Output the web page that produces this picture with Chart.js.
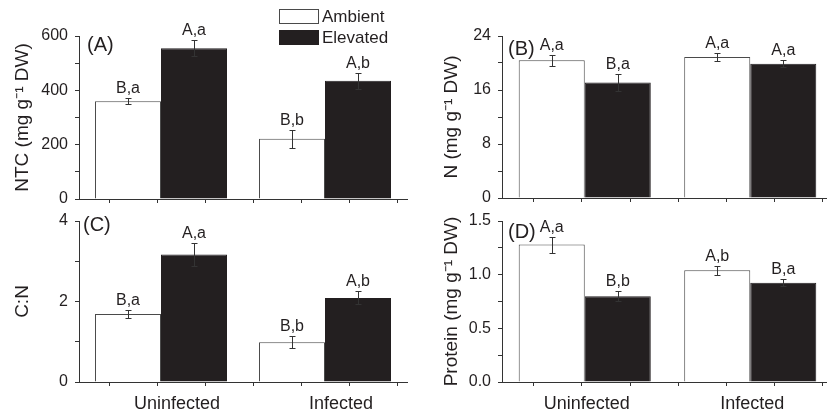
<!DOCTYPE html>
<html>
<head>
<meta charset="utf-8">
<script src="https://cdn.jsdelivr.net/npm/chart.js@4.4.0/dist/chart.umd.min.js"></script>
<style>
  html, body { margin: 0; padding: 0; background: #fff; }
  #wrap { position: relative; width: 827px; height: 415px; overflow: hidden; }
  canvas { position: absolute; }
</style>
</head>
<body>
<div id="wrap">
  <canvas id="panelA" width="413" height="207" style="left:0;top:0"></canvas>
  <canvas id="panelB" width="421" height="207" style="left:413px;top:0"></canvas>
  <canvas id="panelC" width="413" height="208" style="left:0;top:207px"></canvas>
  <canvas id="panelD" width="421" height="208" style="left:413px;top:207px"></canvas>
</div>
<script>
// groups and treatments
const categories = ['Uninfected', 'Infected'];
const seriesNames = ['Ambient', 'Elevated'];

// (A) NTC
const ntcAmbient = [360, 222];
const ntcAmbientErr = [11, 33];
const ntcElevated = [555, 435];
const ntcElevatedErr = [29, 30];
const ntcAmbientLetters = ['B,a', 'B,b'];
const ntcElevatedLetters = ['A,a', 'A,b'];

// (B) N
const nAmbient = [20.4, 20.9];
const nAmbientErr = [0.8, 0.6];
const nElevated = [17.1, 19.9];
const nElevatedErr = [1.2, 0.5];
const nAmbientLetters = ['A,a', 'A,a'];
const nElevatedLetters = ['B,a', 'A,a'];

// (C) C:N
const cnAmbient = [1.69, 0.99];
const cnAmbientErr = [0.09, 0.15];
const cnElevated = [3.17, 2.09];
const cnElevatedErr = [0.29, 0.16];
const cnAmbientLetters = ['B,a', 'B,b'];
const cnElevatedLetters = ['A,a', 'A,b'];

// (D) Protein
const proteinAmbient = [1.28, 1.04];
const proteinAmbientErr = [0.075, 0.04];
const proteinElevated = [0.80, 0.925];
const proteinElevatedErr = [0.045, 0.03];
const proteinAmbientLetters = ['A,a', 'A,b'];
const proteinElevatedLetters = ['B,b', 'B,a'];

// y axis tick settings: max, minor step, labelled step, decimals
const ntcTicks = [600, 100, 200, 0];
const nTicks = [24, 4, 8, 0];
const cnTicks = [4, 1, 2, 0];
const proteinTicks = [1.5, 0.25, 0.5, 1];

const FONT = "'Liberation Sans', Arial, sans-serif";
const INK = '#231f20';
Chart.defaults.font.family = FONT;
Chart.defaults.color = INK;

// error bars, significance letters, panel tag, legend
const marksPlugin = {
    id: 'marks',
    afterDatasetsDraw(chart, args, opts)
    {
        const { ctx, chartArea } = chart;
        const y = chart.scales.y;
        ctx.save();
        chart.data.datasets.forEach((ds, i) =>
        {
            const meta = chart.getDatasetMeta(i);
            meta.data.forEach((bar, j) =>
            {
                const v = ds.data[j], e = ds.errors[j];
                const x = Math.round(bar.x) + 0.5;
                const yt = Math.round(y.getPixelForValue(v + e)) + 0.5;
                const yb = Math.round(y.getPixelForValue(v - e)) + 0.5;
                ctx.strokeStyle = '#333';
                ctx.lineWidth = 1;
                ctx.beginPath();
                ctx.moveTo(x, yt); ctx.lineTo(x, yb);
                ctx.moveTo(x - 3, yt); ctx.lineTo(x + 3, yt);
                ctx.moveTo(x - 3, yb); ctx.lineTo(x + 3, yb);
                ctx.stroke();
                ctx.fillStyle = INK;
                ctx.font = '16px ' + FONT;
                ctx.textAlign = 'center';
                ctx.textBaseline = 'alphabetic';
                ctx.fillText(ds.letters[j], bar.x, yt - 6);
            });
        });

        // panel tag
        ctx.font = '20px ' + FONT;
        ctx.textAlign = 'left';
        ctx.textBaseline = 'middle';
        ctx.fillStyle = INK;
        ctx.fillText(opts.tag, chartArea.left + opts.tagDx, chartArea.top + opts.tagDy);

        // legend
        if (opts.legend)
        {
            const lg = opts.legend;
            chart.data.datasets.forEach((ds, i) =>
            {
                const top = lg.y + i * 21;
                ctx.fillStyle = ds.backgroundColor;
                ctx.fillRect(lg.x, top, 40, 15);
                ctx.strokeStyle = ds.borderColor;
                ctx.strokeRect(lg.x + 0.5, top + 0.5, 39, 14);
                ctx.fillStyle = INK;
                ctx.font = '17px ' + FONT;
                ctx.textAlign = 'left';
                ctx.textBaseline = 'middle';
                ctx.fillText(ds.label, lg.x + 43, top + 8);
            });
        }
        ctx.restore();
    }
};

const makePanel = (id, p) =>
{
    const [yMax, yStep, yMajor, dec] = p.ticks;
    const ctx = document.getElementById(id).getContext('2d');
    return new Chart(ctx, {
        type: 'bar',
        data: {
            labels: categories,
            datasets: [{
                label: seriesNames[0],
                data: p.ambient,
                errors: p.ambientErr,
                letters: p.ambientLetters,
                backgroundColor: '#ffffff',
                borderColor: '#4a4a4a',
                borderWidth: 1
            },{
                label: seriesNames[1],
                data: p.elevated,
                errors: p.elevatedErr,
                letters: p.elevatedLetters,
                backgroundColor: INK,
                borderColor: INK,
                borderWidth: 1
            }]
        },
        options: {
            responsive: false,
            animation: false,
            events: [],
            categoryPercentage: p.catPct,
            barPercentage: 1,
            layout: { padding: p.padding },
            scales: {
                x: {
                    type: 'category',
                    display: p.showCategories,
                    weight: 1,
                    grid: { display: false },
                    border: { display: false },
                    ticks: { font: { size: 18 }, color: INK, padding: p.catPad, labelOffset: p.labelShift },
                    afterFit: (s) => { s.height = p.showCategories ? p.xHeight : 0; }
                },
                xt: {
                    type: 'linear',
                    position: 'bottom',
                    weight: 0,
                    min: p.xtRange[0],
                    max: p.xtRange[1],
                    grid: { drawOnChartArea: false, tickLength: 4, color: '#333' },
                    border: { display: true, color: '#333', width: 1 },
                    ticks: { stepSize: 1, includeBounds: false, display: false },
                    afterFit: (s) => { s.height = 0; }
                },
                y: {
                    min: 0,
                    max: yMax,
                    grid: { drawOnChartArea: false, tickLength: 4, color: '#333' },
                    border: { display: true, color: '#333', width: 1 },
                    ticks: {
                        stepSize: yStep,
                        autoSkip: false,
                        padding: 7,
                        font: { size: 16 },
                        color: INK,
                        callback: (v) => Math.abs(v / yMajor - Math.round(v / yMajor)) < 1e-6 ? v.toFixed(dec) : ''
                    },
                    title: {
                        display: true,
                        text: p.yTitle,
                        font: { size: 19 },
                        color: INK,
                        padding: { top: p.titlePad, bottom: 0 }
                    },
                    afterFit: (s) =>
                    {
                        s.width = p.yWidth;
                        s.paddingTop = 0;
                        s.paddingBottom = 0;
                    }
                }
            },
            plugins: {
                legend: { display: false },
                tooltip: { enabled: false },
                marks: { tag: p.tag, tagDx: p.tagDx, tagDy: p.tagDy, legend: p.legend }
            }
        },
        plugins: [marksPlugin]
    });
};

const main = () =>
{
    makePanel('panelA', {
        ambient: ntcAmbient, ambientErr: ntcAmbientErr, ambientLetters: ntcAmbientLetters,
        elevated: ntcElevated, elevatedErr: ntcElevatedErr, elevatedLetters: ntcElevatedLetters,
        ticks: ntcTicks, yTitle: 'NTC (mg g\u207B\u00B9 DW)',
        yWidth: 79, titlePad: 11, catPct: 0.805,
        padding: { top: 36, right: 6, bottom: 8, left: 0 },
        showCategories: false, xHeight: 0, catPad: 0, labelShift: 0,
        xtRange: [-0.567, 5.12],
        tag: '(A)', tagDx: 8, tagDy: 9,
        legend: { x: 279, y: 9 }
    });
    makePanel('panelB', {
        ambient: nAmbient, ambientErr: nAmbientErr, ambientLetters: nAmbientLetters,
        elevated: nElevated, elevatedErr: nElevatedErr, elevatedLetters: nElevatedLetters,
        ticks: nTicks, yTitle: 'N (mg g\u207B\u00B9 DW)',
        yWidth: 89, titlePad: 27, catPct: 0.798,
        padding: { top: 36, right: 1, bottom: 9, left: 0 },
        showCategories: false, xHeight: 0, catPad: 0, labelShift: 0,
        xtRange: [-0.59, 5.15],
        tag: '(B)', tagDx: 6, tagDy: 13
    });
    makePanel('panelC', {
        ambient: cnAmbient, ambientErr: cnAmbientErr, ambientLetters: cnAmbientLetters,
        elevated: cnElevated, elevatedErr: cnElevatedErr, elevatedLetters: cnElevatedLetters,
        ticks: cnTicks, yTitle: 'C:N',
        yWidth: 79, titlePad: 11, catPct: 0.805,
        padding: { top: 14, right: 6, bottom: 0, left: 0 },
        showCategories: true, xHeight: 33, catPad: 3, labelShift: 16,
        xtRange: [-0.567, 5.12],
        tag: '(C)', tagDx: 4, tagDy: 4
    });
    makePanel('panelD', {
        ambient: proteinAmbient, ambientErr: proteinAmbientErr, ambientLetters: proteinAmbientLetters,
        elevated: proteinElevated, elevatedErr: proteinElevatedErr, elevatedLetters: proteinElevatedLetters,
        ticks: proteinTicks, yTitle: 'Protein (mg g\u207B\u00B9 DW)',
        yWidth: 89, titlePad: 27, catPct: 0.798,
        padding: { top: 14, right: 1, bottom: 0, left: 0 },
        showCategories: true, xHeight: 33, catPad: 3, labelShift: 2,
        xtRange: [-0.59, 5.15],
        tag: '(D)', tagDx: 6, tagDy: 11
    });
};

main();
</script>
</body>
</html>
